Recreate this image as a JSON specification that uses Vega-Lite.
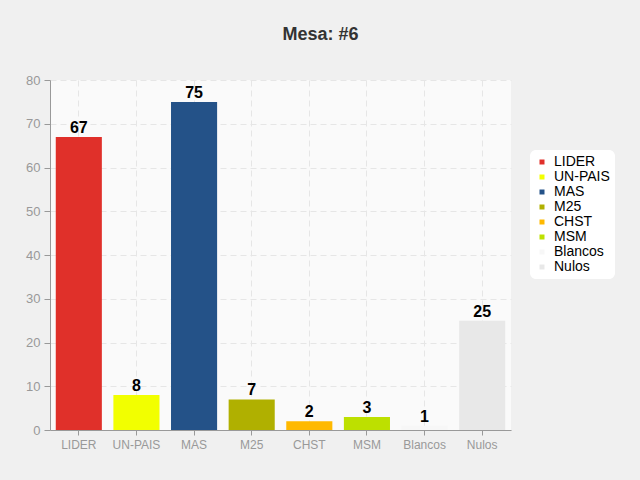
{
  "$schema": "https://vega.github.io/schema/vega-lite/v6.json",
  "autosize": {"type": "none"},
  "width": 461,
  "height": 350,
  "padding": {"left": 50, "top": 80, "right": 129, "bottom": 50},
  "background": "#f0f0f0",
  "title": {
    "text": "Mesa: #6",
    "font": "Liberation Sans",
    "fontSize": 18,
    "fontWeight": "bold",
    "color": "#333333",
    "anchor": "middle",
    "dx": 40,
    "offset": 30
  },
  "config": {
    "view": {"fill": "#fafafa", "stroke": "#cccccc", "strokeWidth": 0},
    "font": "Liberation Sans"
  },
  "data": {
    "values": [
      {"party": "LIDER", "votes": 67},
      {"party": "UN-PAIS", "votes": 8},
      {"party": "MAS", "votes": 75},
      {"party": "M25", "votes": 7},
      {"party": "CHST", "votes": 2},
      {"party": "MSM", "votes": 3},
      {"party": "Blancos", "votes": 1},
      {"party": "Nulos", "votes": 25}
    ]
  },
  "encoding": {
    "x": {
      "field": "party",
      "type": "nominal",
      "sort": null,
      "scale": {"paddingInner": 0.2, "paddingOuter": 0.1},
      "axis": {
        "title": null,
        "labelAngle": 0,
        "labelColor": "#999999",
        "labelFontSize": 12,
        "labelPadding": 4,
        "domainColor": "#999999",
        "tickColor": "#999999",
        "tickSize": 5,
        "bandPosition": 0.5,
        "grid": true,
        "gridColor": "#e6e6e6",
        "gridDash": [6, 4]
      }
    },
    "y": {
      "field": "votes",
      "type": "quantitative",
      "scale": {"domain": [0, 80]},
      "axis": {
        "title": null,
        "values": [0, 10, 20, 30, 40, 50, 60, 70, 80],
        "labelColor": "#999999",
        "labelFontSize": 13,
        "labelPadding": 4,
        "domainColor": "#999999",
        "tickColor": "#999999",
        "tickSize": 6,
        "grid": true,
        "gridColor": "#e6e6e6",
        "gridDash": [6, 4]
      }
    }
  },
  "layer": [
    {
      "mark": {"type": "bar"},
      "encoding": {
        "color": {
          "field": "party",
          "type": "nominal",
          "sort": null,
          "scale": {
            "domain": ["LIDER", "UN-PAIS", "MAS", "M25", "CHST", "MSM", "Blancos", "Nulos"],
            "range": ["#e0302a", "#f2ff00", "#245288", "#b0b000", "#ffb900", "#bde000", "#f7f7f7", "#e8e8e8"]
          },
          "legend": {
            "title": null,
            "orient": "none",
            "legendX": 480,
            "legendY": 70,
            "fillColor": "#ffffff",
            "cornerRadius": 6,
            "padding": 5,
            "symbolType": "square",
            "symbolSize": 25,
            "symbolStrokeWidth": 0,
            "labelFontSize": 14,
            "labelColor": "#000000",
            "labelOffset": 5,
            "rowPadding": 1
          }
        }
      }
    },
    {
      "mark": {"type": "text", "dy": -9, "fontSize": 16, "fontWeight": "bold", "color": "#000000"},
      "encoding": {
        "text": {"field": "votes", "type": "quantitative"}
      }
    }
  ]
}
